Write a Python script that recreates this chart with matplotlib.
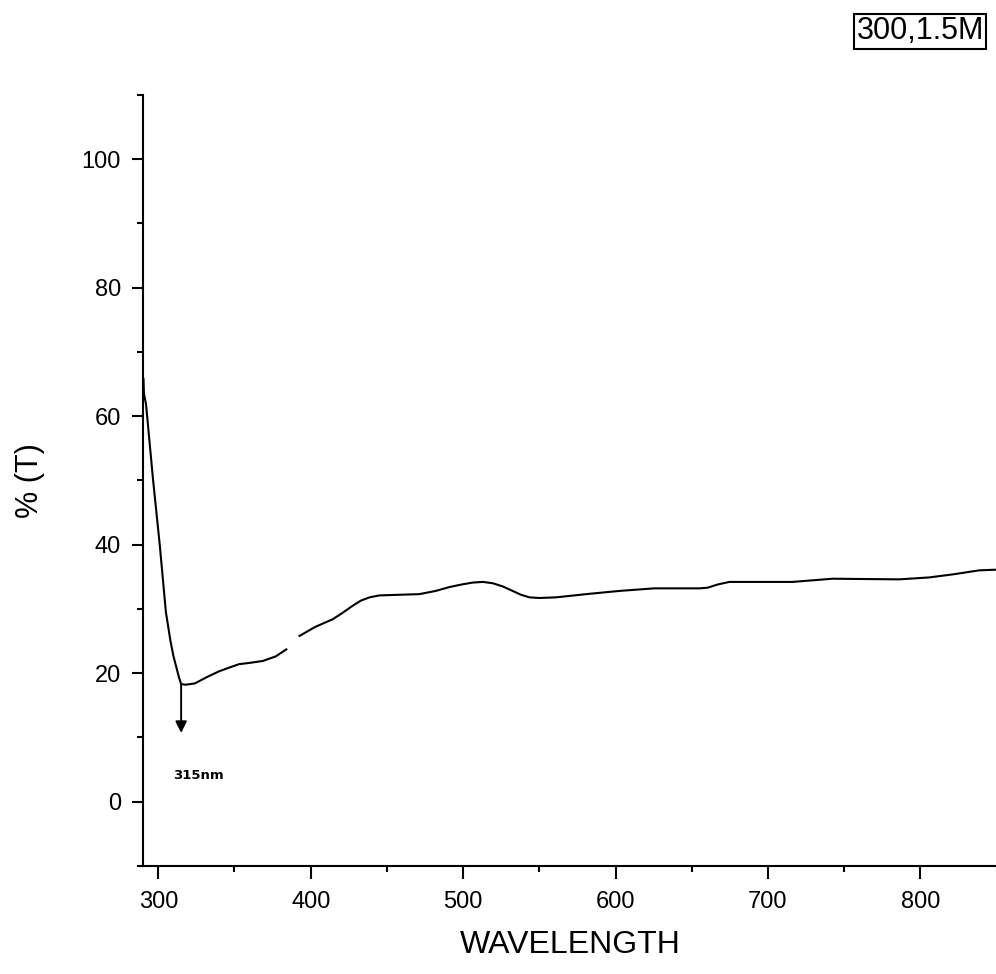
import numpy as np
import matplotlib.pyplot as plt
from matplotlib.ticker import MultipleLocator

# transmittance spectrum, sample 300 / 1.5M
wavelength = [290.3, 290.6, 292, 296.5, 301, 305, 308, 310, 312, 313.5, 315, 318,
              324, 332, 340, 347, 353, 360, 368.6, 377, 384,
              388, 392.7, 403, 414.5, 421, 427.6, 433, 438.6, 445, 458, 471.3,
              482, 491, 499, 506.3, 513, 519.4, 526, 532.5, 538, 543.5, 550,
              561, 580.7, 602.5, 625.4, 654.9, 660.4, 667, 674.6, 716,
              742.4, 786, 805.8, 822, 838.5, 849]
trans = [65.8, 63.5, 61.8, 50.3, 39.9, 29.5, 25.0, 22.6, 20.8, 19.4, 18.3, 18.2,
         18.4, 19.4, 20.3, 20.9, 21.4, 21.6, 21.9, 22.6, 23.7,
         np.nan, 25.8, 27.2, 28.4, 29.4, 30.5, 31.3, 31.8, 32.1, 32.2, 32.3,
         32.8, 33.4, 33.8, 34.1, 34.2, 34.0, 33.5, 32.8, 32.2, 31.8, 31.7,
         31.8, 32.3, 32.8, 33.2, 33.2, 33.3, 33.8, 34.2, 34.2,
         34.7, 34.6, 34.9, 35.4, 36.0, 36.1]
peak_wl = 315
peak_T = 18.3
peak_label = '315nm'
sample_label = '300,1.5M'

plt.rcParams['font.family'] = ['Liberation Sans', 'DejaVu Sans']

fig = plt.figure(figsize=(9.96, 9.74), dpi=100)
ax = fig.add_axes([0.1436, 0.111, 0.857, 0.7915])

ax.plot(wavelength, trans, color='black', linewidth=1.5)

# arrow marking the absorption edge
ax.annotate('', xy=(peak_wl, 10.7), xytext=(peak_wl, peak_T),
            arrowprops=dict(arrowstyle='-|>', color='black', lw=1.4,
                            mutation_scale=17, shrinkA=0, shrinkB=0))
ax.text(peak_wl + 11, 4.1, peak_label, fontsize=9.5, fontweight='bold',
        family='DejaVu Sans', ha='center', va='center')

ax.set_xlim(290, 850)
ax.set_ylim(-10, 110)
ax.xaxis.set_major_locator(MultipleLocator(100))
ax.xaxis.set_minor_locator(MultipleLocator(50))
ax.yaxis.set_major_locator(MultipleLocator(20))
ax.yaxis.set_minor_locator(MultipleLocator(10))

for s in ['top', 'right']:
    ax.spines[s].set_visible(False)
for s in ['left', 'bottom']:
    ax.spines[s].set_linewidth(1.5)

ax.tick_params(axis='both', which='major', direction='out', width=1.5,
               labelsize=17, colors='black')
ax.tick_params(axis='x', which='major', length=9, pad=9)
ax.tick_params(axis='y', which='major', length=8, pad=8)
ax.tick_params(axis='both', which='minor', direction='out', width=1.5, length=4.5)

ax.set_xlabel('WAVELENGTH', fontsize=23, labelpad=12)
ax.set_ylabel('% (T)', fontsize=22, labelpad=26)

fig.text(0.924, 0.968, sample_label, fontsize=22, ha='center', va='center',
         bbox=dict(boxstyle='square,pad=0.08', facecolor='white',
                   edgecolor='black', linewidth=1.5))

fig.savefig('out.png', dpi=100)
